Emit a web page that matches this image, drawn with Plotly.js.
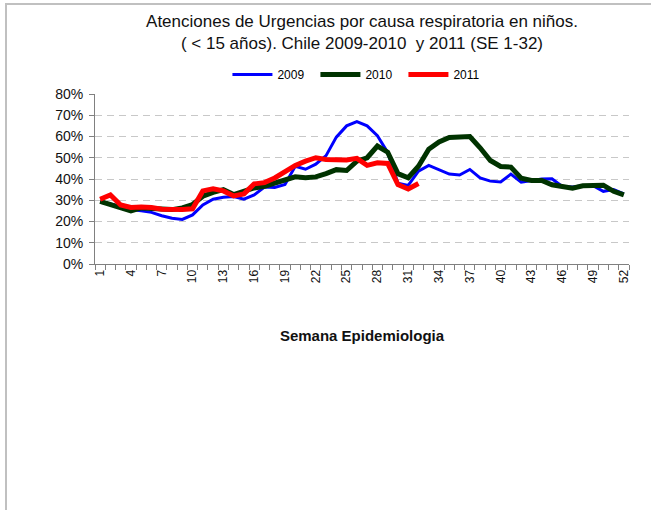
<!DOCTYPE html>
<html>
<head>
<meta charset="utf-8">
<script src="https://cdn.plot.ly/plotly-3.0.1.min.js"></script>
<style>
html, body { margin:0; padding:0; background:#fff; }
#frame { position:absolute; left:5px; top:3px; width:646px; height:507px; border-top:2px solid #c0c0c0; border-left:2px solid #c0c0c0; box-sizing:border-box; pointer-events:none; z-index:5; }
#chart { position:absolute; left:0; top:0; width:651px; height:510px; }
</style>
</head>
<body>
<div id="chart"></div>
<div id="frame"></div>
<script>
const weeks = Array.from({length: 52}, (_, i) => i + 1);
const weeks2011 = weeks.slice(0, 32);

const s2009 = [29, 28.3, 27.1, 25.6, 25, 24.3, 22.7, 21.5, 21, 23.1, 27.8, 30.5, 31.4, 31.8, 30.5, 32.5, 36.2, 36, 37.4, 46, 44.6, 47, 51, 59.7, 65, 67, 65, 60.4, 52.5, 38, 37, 43.7, 46.4, 44.3, 42.3, 41.9, 44.5, 40.5, 39, 38.6, 42.3, 38.5, 39.3, 40, 40.1, 36.5, 36.2, 36.8, 36.8, 34.2, 35, 33];
const s2010 = [29.5, 28, 26.4, 25, 26.4, 26.4, 25.9, 25.6, 26.4, 28, 31.9, 33.7, 35, 32.7, 34.2, 35.8, 36.6, 38, 39, 41, 40.6, 41, 42.5, 44.4, 44, 48.4, 50, 55.5, 52.6, 42.5, 40.6, 46, 54, 57.4, 59.5, 60, 60, 54.7, 48.7, 45.9, 45.6, 40.4, 39.3, 39.3, 37.3, 36.5, 35.7, 36.8, 37.1, 37.1, 34.2, 32.5];
const s2011 = [30.5, 32.5, 27.8, 26.6, 26.8, 26.6, 25.8, 25.6, 25.6, 26, 34.4, 35.4, 34.4, 32, 33, 37.7, 38.3, 40.5, 43.7, 46.4, 48.4, 50, 49.2, 49, 48.9, 49.7, 46.4, 47.6, 47.3, 37.4, 35.3, 37.9];

const seriesNames = ["2009", "2010", "2011"];
const xTickVals = [1, 4, 7, 10, 13, 16, 19, 22, 25, 28, 31, 34, 37, 40, 43, 46, 49, 52];
const xTickText = xTickVals.map(String);
const boundaries = Array.from({length: 53}, (_, i) => i + 0.5);
const yTickVals = [0, 0.1, 0.2, 0.3, 0.4, 0.5, 0.6, 0.7, 0.8];

const titleText = "Atenciones de Urgencias por causa respiratoria en niños.<br>( < 15 años). Chile 2009-2010  y 2011 (SE 1-32)";
const xTitle = "Semana Epidemiologia";

const font = "Arial, 'Liberation Sans', sans-serif";

const traces = [
  {x: weeks, y: s2009.map(v => v / 100), name: seriesNames[0], type: "scatter", mode: "lines",
   line: {color: "#0000ff", width: 3}},
  {x: weeks, y: s2010.map(v => v / 100), name: seriesNames[1], type: "scatter", mode: "lines",
   line: {color: "#003300", width: 5}},
  {x: weeks2011, y: s2011.map(v => v / 100), name: seriesNames[2], type: "scatter", mode: "lines",
   line: {color: "#ff0000", width: 5}},
  {x: [0.5, 52.5], y: [null, null], xaxis: "x2", showlegend: false, hoverinfo: "skip", mode: "lines"}
];

const layout = {
  width: 651, height: 510,
  margin: {l: 95, r: 22, t: 94, b: 246},
  paper_bgcolor: "rgba(0,0,0,0)",
  plot_bgcolor: "rgba(0,0,0,0)",
  font: {family: font, color: "#000"},
  title: {text: titleText, x: 0.5, xref: "paper", y: 0.948, yanchor: "top",
          font: {family: font, size: 17, color: "#111"}},
  showlegend: true,
  legend: {orientation: "h", x: 0.248, xanchor: "left", y: 1.115, yanchor: "middle",
           font: {family: font, size: 12, color: "#000"}, entrywidth: 33, itemwidth: 40,
           bgcolor: "rgba(0,0,0,0)"},
  xaxis: {range: [0.5, 52.5], tickmode: "array", tickvals: xTickVals, ticktext: xTickText,
          tickangle: -90, ticks: "", showgrid: false, zeroline: false,
          showline: true, linecolor: "#808080", linewidth: 1,
          tickfont: {family: font, size: 12, color: "#111"},
          title: {text: "<b>" + xTitle + "</b>", font: {family: font, size: 15, color: "#111"}, standoff: 48}},
  xaxis2: {range: [0.5, 52.5], overlaying: "x", anchor: "y", side: "bottom", tickmode: "array",
           tickvals: boundaries, ticks: "outside", ticklen: 5, tickcolor: "#808080", tickwidth: 1,
           showticklabels: false, showgrid: false, zeroline: false, showline: false},
  yaxis: {range: [0, 0.8], tickmode: "array", tickvals: yTickVals, tickformat: ".0%",
          ticks: "outside", ticklen: 5, tickcolor: "#808080", showline: true, linecolor: "#808080",
          linewidth: 1, zeroline: false, showgrid: true, gridcolor: "#c8c8c8", griddash: "7px,5px",
          gridwidth: 1, ticklabelstandoff: 3, tickfont: {family: font, size: 14, color: "#111"}}
};

Plotly.newPlot("chart", traces, layout, {displayModeBar: false, staticPlot: true});
</script>
</body>
</html>
